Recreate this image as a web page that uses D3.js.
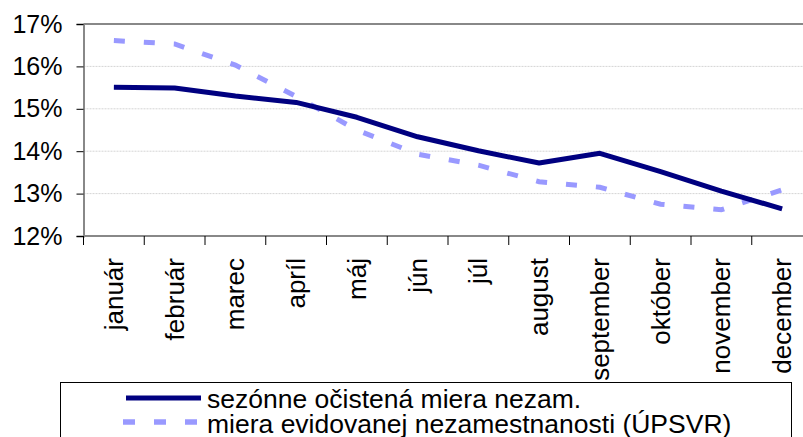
<!DOCTYPE html>
<html>
<head>
<meta charset="utf-8">
<script src="https://cdn.jsdelivr.net/npm/d3@7"></script>
<style>
  html, body { margin: 0; padding: 0; background: #fff; }
  svg { display: block; font-family: "Liberation Sans", Arial, sans-serif; }
</style>
</head>
<body>
<div id="chart"></div>
<script>
// mesiace a hodnoty (v %)
const months = ["január", "február", "marec", "apríl", "máj", "jún", "júl",
  "august", "september", "október", "november", "december"];
const seasonal = [15.51, 15.49, 15.30, 15.15, 14.80, 14.34, 14.01, 13.72, 13.95, 13.52, 13.06, 12.64];
const registered = [16.61, 16.53, 16.03, 15.29, 14.50, 13.93, 13.67, 13.28, 13.15, 12.75, 12.62, 13.09];
const yTicks = [12, 13, 14, 15, 16, 17];
const seriesNames = ["sezónne očistená miera nezam.", "miera evidovanej nezamestnanosti (ÚPSVR)"];

const width = 803;
const height = 437;
const plot = { left: 83.5, right: 812.5, top: 24, bottom: 236 };

const svg = d3.select("#chart").append("svg")
  .attr("width", width)
  .attr("height", height);

const x = d3.scaleBand().domain(months).range([plot.left, plot.right]);
const y = d3.scaleLinear().domain([12, 17]).range([plot.bottom, plot.top]);
const cx = (m) => x(m) + x.bandwidth() / 2;

// mriežka
svg.append("g")
  .selectAll("line")
  .data(yTicks.slice(1, -1))
  .join("line")
  .attr("x1", plot.left).attr("x2", plot.right)
  .attr("y1", (d) => y(d)).attr("y2", (d) => y(d))
  .attr("stroke", "#d4d4d4")
  .attr("stroke-width", 1)
  .attr("stroke-dasharray", "2,1");

// rám grafu
svg.append("line")
  .attr("x1", plot.left).attr("x2", plot.right)
  .attr("y1", plot.top).attr("y2", plot.top)
  .attr("stroke", "#888").attr("stroke-width", 2);

// os Y
const yAxis = svg.append("g")
  .attr("transform", `translate(${plot.left},0)`)
  .call(d3.axisLeft(y).tickValues(yTicks).tickFormat((d) => d + "%").tickSize(7).tickPadding(14));
yAxis.select(".domain").attr("stroke", "#888").attr("stroke-width", 2);
yAxis.selectAll(".tick line").attr("stroke", "#000");
yAxis.selectAll("text").attr("font-size", 25).attr("fill", "#000")
  .attr("font-family", "'Liberation Sans', Arial, sans-serif");

// os X
svg.append("line")
  .attr("x1", plot.left).attr("x2", plot.right)
  .attr("y1", plot.bottom).attr("y2", plot.bottom)
  .attr("stroke", "#888").attr("stroke-width", 2);

svg.append("g")
  .selectAll("line")
  .data(months)
  .join("line")
  .attr("x1", (d) => x(d)).attr("x2", (d) => x(d))
  .attr("y1", plot.bottom).attr("y2", plot.bottom + 9)
  .attr("stroke", "#000");

svg.append("g")
  .selectAll("text")
  .data(months)
  .join("text")
  .attr("transform", (d) => `translate(${cx(d)},${plot.bottom + 22}) rotate(-90)`)
  .attr("text-anchor", "end")
  .attr("dy", "0.35em")
  .attr("font-size", 26)
  .text((d) => d);

// čiary
const line = d3.line()
  .x((d, i) => cx(months[i]))
  .y((d) => y(d));

svg.append("path")
  .datum(registered)
  .attr("d", line)
  .attr("fill", "none")
  .attr("stroke", "#9999ff")
  .attr("stroke-width", 5)
  .attr("stroke-dasharray", "11,19");

svg.append("path")
  .datum(seasonal)
  .attr("d", line)
  .attr("fill", "none")
  .attr("stroke", "#000080")
  .attr("stroke-width", 5)
  .attr("stroke-linejoin", "round");

// legenda
const legend = svg.append("g");
legend.append("rect")
  .attr("x", 60.5).attr("y", 382.5)
  .attr("width", 731).attr("height", 80)
  .attr("fill", "#fff").attr("stroke", "#000").attr("stroke-width", 1);

legend.append("line")
  .attr("x1", 126).attr("x2", 201).attr("y1", 398).attr("y2", 398)
  .attr("stroke", "#000080").attr("stroke-width", 5);
legend.append("line")
  .attr("x1", 123).attr("x2", 197).attr("y1", 422).attr("y2", 422)
  .attr("stroke", "#9999ff").attr("stroke-width", 5.5)
  .attr("stroke-dasharray", "12,19");

legend.selectAll("text")
  .data(seriesNames)
  .join("text")
  .attr("x", 207)
  .attr("y", (d, i) => 408 + i * 24.7)
  .attr("font-size", 26.5)
  .text((d) => d);
</script>
</body>
</html>
